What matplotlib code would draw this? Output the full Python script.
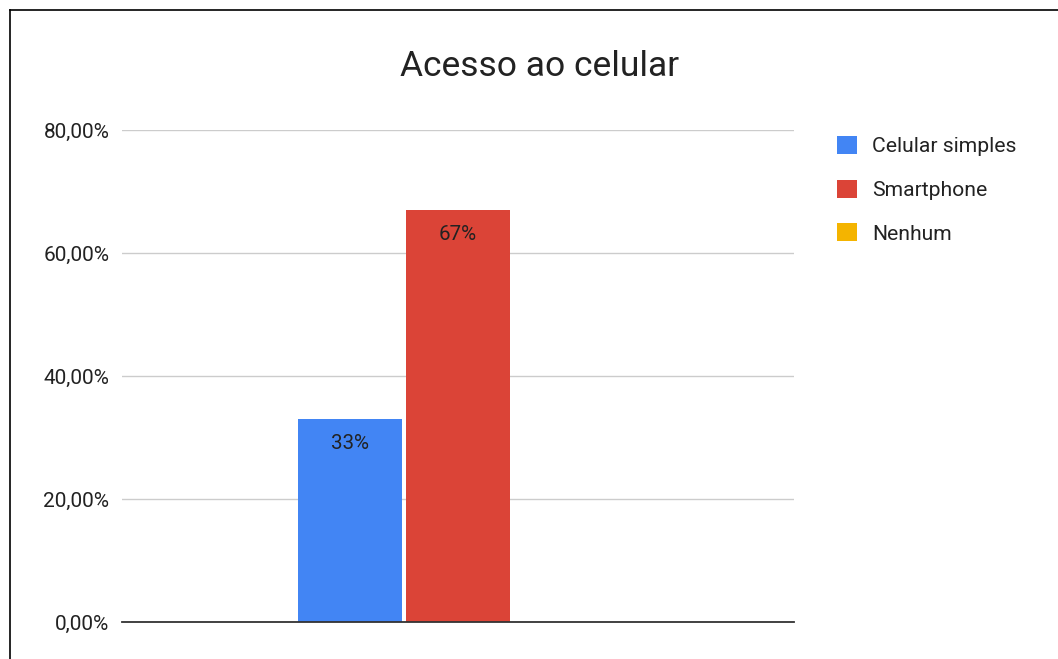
import matplotlib.pyplot as plt
from matplotlib.lines import Line2D
from matplotlib.patches import Patch

plt.rcParams['font.family'] = ['Roboto', 'DejaVu Sans']

categories = ["Celular simples", "Smartphone", "Nenhum"]
values = [0.33, 0.67, 0.0]
labels = ["33%", "67%", ""]
colors = ["#4285f4", "#db4437", "#f4b400"]
yticks = [0, 0.2, 0.4, 0.6, 0.8]
ytick_labels = ["0,00%", "20,00%", "40,00%", "60,00%", "80,00%"]

W, H = 1058, 659
fig = plt.figure(figsize=(W / 100, H / 100), dpi=100)
ax = fig.add_axes([122 / W, 1 - 622 / H, (794 - 122) / W, (622 - 130) / H])

x = [-1, 0, 1]
bars = ax.bar(x, values, width=0.96, color=colors, zorder=3)
for b, lab in zip(bars, labels):
    if lab:
        ax.text(b.get_x() + b.get_width() / 2, b.get_height() - 0.025, lab,
                ha="center", va="top", fontsize=14.8, color="#222222", zorder=4)

ax.set_xlim(-3.11, 3.11)
ax.set_ylim(0, 0.8)
ax.set_yticks(yticks)
ax.set_yticklabels(ytick_labels, fontsize=15, color="#222222")
ax.set_xticks([])
ax.tick_params(axis="y", length=0, pad=9)
ax.grid(axis="y", color="#cccccc", linewidth=1, zorder=0)
for s in ["top", "right", "left"]:
    ax.spines[s].set_visible(False)
ax.spines["bottom"].set_color("#333333")
ax.spines["bottom"].set_linewidth(1.3)
ax.spines["bottom"].set_zorder(5)

fig.text(540 / W, 1 - 67 / H, "Acesso ao celular", ha="center", va="center",
         fontsize=25.5, color="#222222")

handles = [Patch(facecolor=c, edgecolor="none") for c in colors]
fig.legend(handles, categories, loc="upper left", bbox_to_anchor=(837 / W, 1 - 136 / H),
           frameon=False, fontsize=15.2, handlelength=0.95, handleheight=0.95,
           labelspacing=1.1, handletextpad=0.7, borderpad=0, borderaxespad=0,
           labelcolor="#222222")

# frame of the original screenshot
fig.add_artist(Line2D([9.5 / W, 9.5 / W], [0, 1 - 10 / H], color="black", linewidth=1.2))
fig.add_artist(Line2D([9.5 / W, 1], [1 - 10 / H, 1 - 10 / H], color="black", linewidth=1.2))

fig.savefig("out.png", dpi=100)
